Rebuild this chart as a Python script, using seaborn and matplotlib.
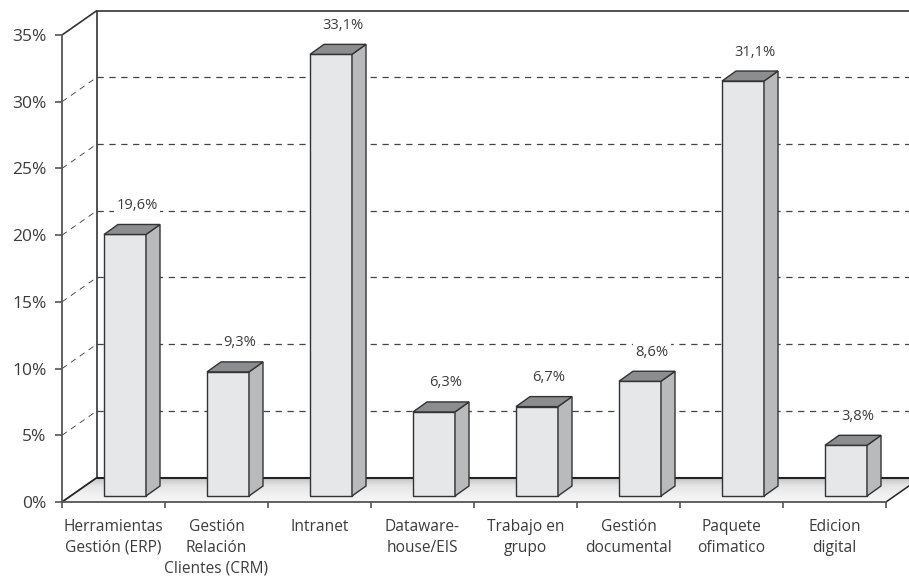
import numpy as np
import pandas as pd
import seaborn as sns
import matplotlib
matplotlib.use("Agg")
import matplotlib.pyplot as plt
from matplotlib.patches import Polygon
from matplotlib.colors import LinearSegmentedColormap

categories = ["Herramientas\nGestión (ERP)", "Gestión\nRelación\nClientes (CRM)", "Intranet",
              "Dataware-\nhouse/EIS", "Trabajo en\ngrupo", "Gestión\ndocumental",
              "Paquete\nofimatico", "Edicion\ndigital"]
values = [19.6, 9.3, 33.1, 6.3, 6.7, 8.6, 31.1, 3.8]
value_labels = ["19,6%", "9,3%", "33,1%", "6,3%", "6,7%", "8,6%", "31,1%", "3,8%"]
y_ticks = [0, 5, 10, 15, 20, 25, 30, 35]

W, H = 909, 576
L, R, B, T = 62, 886, 502, 35
sns.set_theme(style="white")
plt.rcParams["font.family"] = ["Open Sans", "DejaVu Sans"]
TXT = "#3c3c3c"
LINE = "#333333"

fig = plt.figure(figsize=(W / 100, H / 100), dpi=100)
ax = fig.add_axes([L / W, 1 - B / H, (R - L) / W, (B - T) / H])
ax.set_facecolor("none")

px = (R - L) / 8          # pixels per category
py = (B - T) / 35         # pixels per percent
X = lambda p: (p - L) / px - 0.5
wall_dx, wall_dy = 35 / px, 24.5 / py
depth_dx, depth_dy = 14 / px, 10 / py
base = 6 / py
shift = 11.5 / px
bw = 42 / px

df = pd.DataFrame({"cat": categories, "val": values})
sns.barplot(data=df, x="cat", y="val", ax=ax, color="#e6e7e8", saturation=1,
            width=bw, bottom=base, edgecolor=LINE, linewidth=1.0, zorder=4)
bars = list(ax.patches)
ax.set_xlim(-0.5, 7.5)
ax.set_ylim(0, 35)
ax.set_xlabel("")
ax.set_ylabel("")

# floor with gradient
floor = Polygon([(-0.5, 0), (-0.5 + wall_dx, wall_dy), (7.5 + wall_dx, wall_dy), (7.5, 0)],
                closed=True, facecolor="none", edgecolor="none", transform=ax.transData)
ax.add_patch(floor)
grad = np.linspace(0, 1, 64).reshape(-1, 1)
cmap = LinearSegmentedColormap.from_list("f", ["#f6f6f6", "#f0f0f0", "#e4e4e5", "#c0c1c2"])
im = ax.imshow(grad, extent=(-0.5, 7.5 + wall_dx, 0, wall_dy), origin="lower", aspect="auto",
               cmap=cmap, zorder=1)
im.set_clip_box(fig.bbox)
im.set_clip_path(floor)
ax.set_xlim(-0.5, 7.5)
ax.set_ylim(0, 35)

end = X(W + 5)
# back wall
kw = dict(clip_on=False, solid_capstyle="butt")
ax.plot([X(L + 35)] * 2, [wall_dy, 35 + wall_dy], color=LINE, lw=1.2, zorder=3, **kw)
ax.plot([X(L + 35), end], [35 + wall_dy] * 2, color=LINE, lw=1.2, zorder=3, **kw)
ax.plot([X(L + 35), end], [wall_dy] * 2, color="#222222", lw=1.5, zorder=3, **kw)
ax.plot([-0.5, -0.5 + wall_dx], [35, 35 + wall_dy], color=LINE, lw=1.2, zorder=3, **kw)
ax.plot([-0.5, -0.5 + wall_dx], [0, wall_dy], color="#222222", lw=1.3, zorder=3, **kw)
ax.plot([7.5, 7.5 + wall_dx], [0, wall_dy], color="#222222", lw=1.1, zorder=3, **kw)

# grid
for v in y_ticks[1:-1]:
    ax.plot([X(L + 35), end], [v + wall_dy] * 2, color="#444444", lw=0.9,
            dashes=(5, 4.5), zorder=2, clip_on=False)
    ax.plot([-0.5, -0.5 + wall_dx], [v, v + wall_dy], color="#333333", lw=0.6,
            dashes=(7, 6), zorder=2, clip_on=False)

# 3-D faces
for bar, v, lab in zip(bars, values, value_labels):
    bar.set_x(bar.get_x() + shift)
    x0, x1 = bar.get_x(), bar.get_x() + bar.get_width()
    y0, y1 = base, base + v
    ax.add_patch(Polygon([(x1, y0), (x1 + depth_dx, y0 + depth_dy), (x1 + depth_dx, y1 + depth_dy), (x1, y1)],
                         closed=True, facecolor="#b9babb", edgecolor=LINE, lw=1.0, zorder=4))
    ax.add_patch(Polygon([(x0, y1), (x0 + depth_dx, y1 + depth_dy), (x1 + depth_dx, y1 + depth_dy), (x1, y1)],
                         closed=True, facecolor="#8c8d8e", edgecolor=LINE, lw=1.0, zorder=4, clip_on=False))
    ax.text((x0 + x1) / 2 + 12 / px, y1 + 29 / py, lab, ha="center", va="center", fontsize=10.6,
            color=TXT, zorder=5, bbox=dict(facecolor="white", edgecolor="none", pad=1.5))

# axes
for s in ["top", "right"]:
    ax.spines[s].set_visible(False)
for s in ["left", "bottom"]:
    ax.spines[s].set_visible(True)
    ax.spines[s].set_color("#555555")
    ax.spines[s].set_linewidth(1.3)
    ax.spines[s].set_zorder(6)
ax.set_yticks(y_ticks)
ax.set_yticklabels([f"{t}%" for t in y_ticks], fontsize=12.5, color=TXT)
ax.set_xticks(np.arange(-0.5, 8, 1))
ax.set_xticklabels([])
ax.set_xticks(np.arange(8), labels=categories, minor=True)
ax.tick_params(axis="y", which="major", left=True, length=5, width=1.2, color="#555555", pad=6)
ax.tick_params(axis="x", which="major", bottom=True, length=4.3, width=1.2, color="#555555")
ax.tick_params(axis="x", which="minor", bottom=False, length=0, pad=12.5, labelsize=11.2, labelcolor=TXT)
for t in ax.get_xticklabels(minor=True):
    t.set_linespacing(1.36)
fig.savefig("out.png", dpi=100)
